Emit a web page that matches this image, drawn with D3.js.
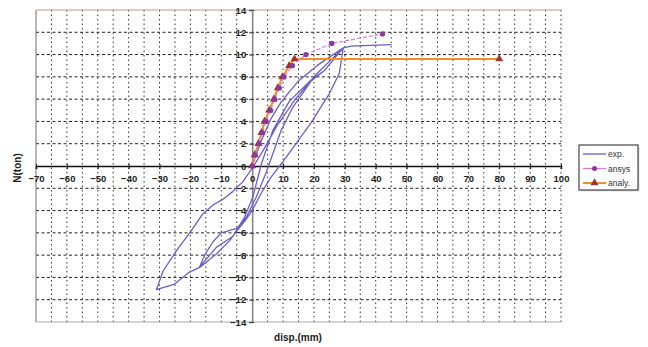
<!DOCTYPE html>
<html>
<head>
<meta charset="utf-8">
<script src="https://cdn.jsdelivr.net/npm/d3@7/dist/d3.min.js"></script>
<style>
  html, body { margin: 0; padding: 0; background: #fff; }
  svg { display: block; font-family: "Liberation Sans", Arial, sans-serif; }
</style>
</head>
<body>
<svg id="chart" width="648" height="347"></svg>
<script>
// ---------------- data ----------------
const xTicks = [-70, -60, -50, -40, -30, -20, -10, 0, 10, 20, 30, 40, 50, 60, 70, 80, 90, 100];
const yTicks = [14, 12, 10, 8, 6, 4, 2, 0, -2, -4, -6, -8, -10, -12, -14];
const xGrid = [-65, -60, -55, -50, -45, -40, -35, -30, -25, -20, -15, -10, -5, 5, 10, 15, 20, 25, 30, 35, 40, 45, 50, 55, 60, 65, 70, 75, 80, 85, 90, 95, 100];

// experimental hysteresis path (disp mm, N ton)
const expDisp = [0, 3, 6, 9.4, 14.7, 21.2, 29.5,
  23.5, 19, 13, 9.4, 4.5, 1.3, -1.9, -5, -10, -12.7, -15.4, -17,
  -11.6, -6.2, -2.5, 0.2, 3, 6.7, 12, 19, 23.5, 29.5,
  21, 14, 8, 4, 0.5, -3, -6.3, -9, -12.7, -16, -19.7, -24.5, -28.8, -30.5, -31,
  -25.1, -20.2, -17, -11.6, -7.3, -5.2, -2, 0, 3, 6.1, 9.9, 14.2, 19.1, 25, 28.2, 29.5,
  32, 40.6, 45.2];
const expLoad = [0, 2.3, 4.2, 5.75, 7.55, 9.05, 10.6,
  8.6, 7.6, 5.2, 3.2, -0.6, -2.8, -4.6, -5.6, -6.0, -6.8, -8.0, -9.05,
  -7.3, -6.3, -4.6, -2.8, 0.2, 3.2, 5.8, 7.7, 8.6, 10.6,
  8.3, 6.0, 3.6, 1.6, 0, -1.4, -2.3, -2.9, -3.5, -4.3, -5.8, -7.6, -9.4, -10.7, -11.1,
  -10.6, -9.5, -9.1, -7.9, -6.7, -5.9, -4.8, -4.0, -2.4, -1.0, 0.36, 2.0, 3.9, 6.5, 8.3, 10.6,
  10.76, 10.85, 10.9];

const ansysDisp = [0, 1, 2.2, 3.3, 4.5, 6, 7.3, 8.8, 10.3, 13, 17.4, 25.8, 42.2];
const ansysLoad = [0, 1, 2, 3, 4, 5, 6, 7, 8, 9, 10, 11, 11.85];

const analyDisp = [0, 0.8, 2, 3, 4, 5.5, 7, 8.3, 9.8, 12, 13.7, 80];
const analyLoad = [0, 1, 2, 3, 4, 5, 6, 7, 8, 9, 9.6, 9.6];

const seriesNames = ["exp.", "ansys", "analy."];

// ---------------- drawing ----------------
const svg = d3.select("#chart");
const x = d3.scaleLinear().domain([-70, 100]).range([36, 561]);
const y = d3.scaleLinear().domain([-14, 14]).range([322, 10]);

const grid = svg.append("g");
// horizontal dashed grid lines
grid.selectAll("line.h").data(yTicks.filter(d => d !== 0 && d !== -14 && d !== 14)).join("line")
  .attr("x1", x(-70)).attr("x2", x(100))
  .attr("y1", d => y(d)).attr("y2", d => y(d))
  .attr("stroke", "#222").attr("stroke-width", 1).attr("stroke-dasharray", "3,2.5");
// vertical dotted grid lines
grid.selectAll("line.v").data(xGrid).join("line")
  .attr("x1", d => x(d)).attr("x2", d => x(d))
  .attr("y1", y(14)).attr("y2", y(-14))
  .attr("stroke", "#333").attr("stroke-width", 1).attr("stroke-dasharray", "1.5,3");

// frame
grid.append("line").attr("x1", x(-70)).attr("x2", x(-70)).attr("y1", y(14)).attr("y2", y(-14))
  .attr("stroke", "#888").attr("stroke-width", 1.2);
grid.append("line").attr("x1", x(-70)).attr("x2", x(100)).attr("y1", y(14)).attr("y2", y(14))
  .attr("stroke", "#b89a9a").attr("stroke-width", 1);
grid.append("line").attr("x1", x(-70)).attr("x2", x(100)).attr("y1", y(-14)).attr("y2", y(-14))
  .attr("stroke", "#aaa").attr("stroke-width", 1);

// axes through origin
const xAxis = d3.axisBottom(x).tickValues(xTicks).tickSize(3).tickPadding(6).tickFormat(d3.format("d"));
const gx = svg.append("g").attr("transform", `translate(0,${y(0)})`).call(xAxis);
gx.select(".domain").attr("stroke", "#111").attr("stroke-width", 1.6);
gx.selectAll(".tick line").attr("stroke", "#111").attr("y1", -2);
gx.selectAll(".tick text").attr("font-size", 9.5).attr("fill", "#222")
  .attr("font-family", "Liberation Sans, Arial, sans-serif").attr("font-weight", "bold");

const yAxis = d3.axisLeft(y).tickValues(yTicks).tickSize(3).tickPadding(3).tickFormat(d3.format("d"));
const gy = svg.append("g").attr("transform", `translate(${x(0)},0)`).call(yAxis);
gy.select(".domain").attr("stroke", "#888").attr("stroke-width", 1.6);
gy.selectAll(".tick line").attr("stroke", "#444").attr("x1", 2);
gy.selectAll(".tick text").attr("font-size", 9.5).attr("fill", "#222")
  .attr("font-family", "Liberation Sans, Arial, sans-serif").attr("font-weight", "bold")
  .attr("fill", "#222");
gx.raise();

// axis titles
svg.append("text").attr("x", 298).attr("y", 341).attr("text-anchor", "middle")
  .attr("font-size", 10).attr("font-weight", "bold").attr("fill", "#222").text("disp.(mm)");
svg.append("text").attr("transform", "translate(21,168) rotate(-90)").attr("text-anchor", "middle")
  .attr("font-size", 10).attr("font-weight", "bold").attr("fill", "#222").text("N(ton)");

const line = d3.line().x(d => x(d[0])).y(d => y(d[1]));

// exp series
const expPts = expDisp.map((d, i) => [d, expLoad[i]]);
svg.append("path").datum(expPts).attr("d", line)
  .attr("fill", "none").attr("stroke", "#6c5fc7").attr("stroke-width", 1.3).attr("stroke-linejoin", "round");

// analy series
const analyPts = analyDisp.map((d, i) => [d, analyLoad[i]]);
svg.append("path").datum(analyPts).attr("d", line)
  .attr("fill", "none").attr("stroke", "#f0902c").attr("stroke-width", 2);
const tri = d3.symbol().type(d3.symbolTriangle).size(28);
svg.append("g").selectAll("path").data(analyPts).join("path")
  .attr("d", tri).attr("transform", d => `translate(${x(d[0])},${y(d[1])})`)
  .attr("fill", "#9b3535");

// ansys series
const ansysPts = ansysDisp.map((d, i) => [d, ansysLoad[i]]);
svg.append("path").datum(ansysPts).attr("d", line)
  .attr("fill", "none").attr("stroke", "#d77ad8").attr("stroke-width", 1.2).attr("stroke-dasharray", "4,2");
svg.append("g").selectAll("circle").data(ansysPts).join("circle")
  .attr("cx", d => x(d[0])).attr("cy", d => y(d[1])).attr("r", 2.6)
  .attr("fill", "#8a3a9a");

// legend
const lg = svg.append("g").attr("transform", "translate(579,145)");
lg.append("rect").attr("x", 1.5).attr("y", 1.5).attr("width", 59).attr("height", 45).attr("fill", "#ddd");
lg.append("rect").attr("width", 59).attr("height", 45).attr("fill", "#fff").attr("stroke", "#222").attr("stroke-width", 1);
const legColors = ["#6c5fc7", "#d77ad8", "#f0902c"];
seriesNames.forEach((name, i) => {
  const yy = 9 + i * 14.5;
  lg.append("line").attr("x1", 4).attr("x2", 27).attr("y1", yy).attr("y2", yy)
    .attr("stroke", legColors[i]).attr("stroke-width", i === 2 ? 2 : 1.3);
  if (i === 1) lg.append("circle").attr("cx", 15.5).attr("cy", yy).attr("r", 2.5).attr("fill", "#8a3a9a");
  if (i === 2) lg.append("path").attr("d", tri).attr("transform", `translate(15.5,${yy})`).attr("fill", "#9b3535");
  lg.append("text").attr("x", 29).attr("y", yy + 3).attr("font-size", 8.5).attr("fill", "#333").text(name);
});
</script>
</body>
</html>
